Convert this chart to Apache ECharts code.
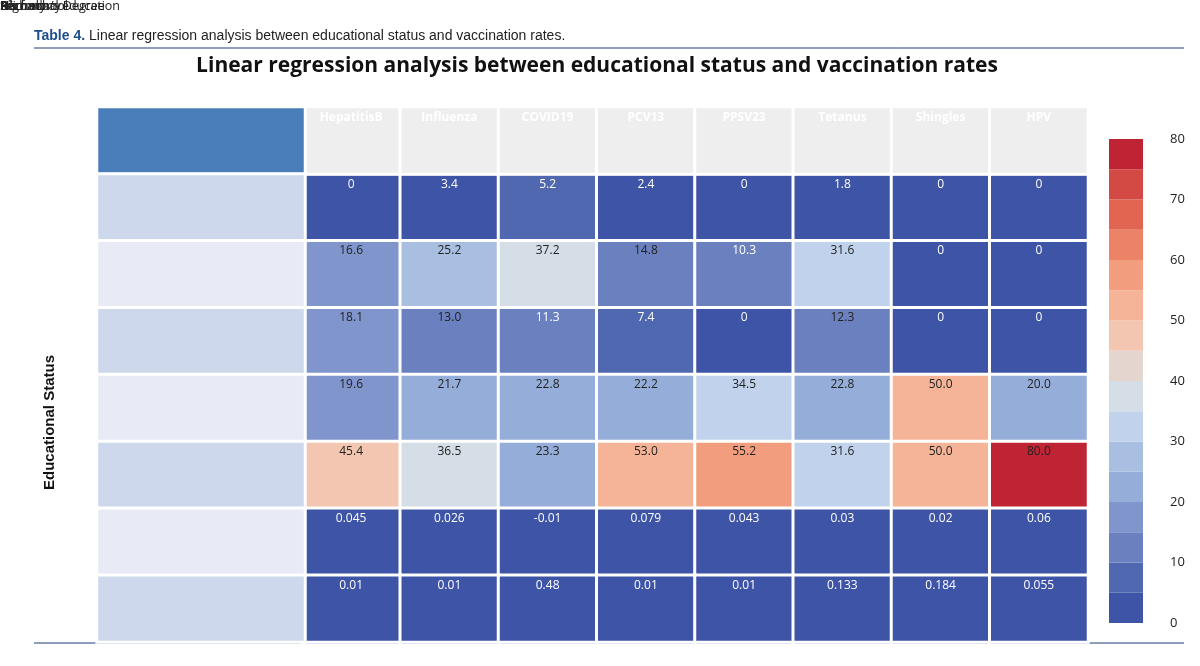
<!DOCTYPE html>
<html>
<head>
<meta charset="utf-8">
<script src="https://cdn.jsdelivr.net/npm/echarts@6/dist/echarts.min.js"></script>
<style>html,body{margin:0;padding:0;background:#fff}#chart{width:1200px;height:666px}</style>
</head>
<body>
<div id="chart"></div>
<script>
(function () {
  'use strict';

  const vaccines = ['HepatitisB', 'Influenza', 'COVID19', 'PCV13', 'PPSV23', 'Tetanus', 'Shingles', 'HPV'];
  const rowNames = ['No formal education', 'Primary', 'Secondary', 'High school', 'Bachelor\u2019s Degree', 'R\u00b2', 'P'];

  // 표에 적힌 값 그대로(문자열)
  const noFormal  = ['0', '3.4', '5.2', '2.4', '0', '1.8', '0', '0'];
  const primary   = ['16.6', '25.2', '37.2', '14.8', '10.3', '31.6', '0', '0'];
  const secondary = ['18.1', '13.0', '11.3', '7.4', '0', '12.3', '0', '0'];
  const highSch   = ['19.6', '21.7', '22.8', '22.2', '34.5', '22.8', '50.0', '20.0'];
  const bachelor  = ['45.4', '36.5', '23.3', '53.0', '55.2', '31.6', '50.0', '80.0'];
  const rSquared  = ['0.045', '0.026', '-0.01', '0.079', '0.043', '0.03', '0.02', '0.06'];
  const pValues   = ['0.01', '0.01', '0.48', '0.01', '0.01', '0.133', '0.184', '0.055'];

  // 색상 막대: 0~80, 5 단위 16칸
  const scaleColors = ['#3e54a6', '#5068b0', '#6a80bf', '#7f95cc', '#94aed9', '#a9bfe2', '#c1d3ec', '#d5dee6',
                       '#e4d6ce', '#f3c6b2', '#f5b497', '#f29e7e', '#ec8266', '#e16550', '#d24a43', '#bf2435'];
  const scaleStep = 5;
  const scaleTicks = ['0', '10', '20', '30', '40', '50', '60', '70', '80'];

  const tableRows = [noFormal, primary, secondary, highSch, bachelor, rSquared, pValues];
  const rowCats = ['hdr'].concat(rowNames);

  const cellData = [];
  tableRows.forEach((row, r) => {
    const isStat = r >= 5;
    row.forEach((txt, c) => {
      const v = isStat ? 0 : parseFloat(txt);
      cellData.push({ value: [c, r + 1, v], txt: txt, label: { color: (isStat || v < 12) ? '#fff' : '#222' } });
    });
  });
  const headerData = vaccines.map((v, c) => ({ value: [c, 0, 0], txt: v }));
  const labelData = rowCats.map((name, r) => ({
    value: [0, r, 0], txt: r === 0 ? '' : name,
    itemStyle: { color: r === 0 ? '#4a7ebb' : (r % 2 ? '#cdd8ec' : '#e8ebf5') },
    label: { fontWeight: r >= 6 ? 'bold' : 'normal' }
  }));

  const pieces = scaleColors.map((col, i) => ({ gte: i * scaleStep, lt: (i + 1) * scaleStep + (i === 15 ? 0.01 : 0), color: col }));
  const barSeries = scaleColors.map((col) => ({
    type: 'bar', xAxisIndex: 2, yAxisIndex: 2, stack: 'scale', barWidth: 34,
    data: [scaleStep], itemStyle: { color: col }, silent: true
  }));

  const cellStyle = { borderColor: '#fff', borderWidth: 3 };
  const chart = echarts.init(document.getElementById('chart'));
  chart.setOption({
    animation: false,
    textStyle: { fontFamily: 'Open Sans, DejaVu Sans, sans-serif' },
    title: {
      text: 'Linear regression analysis between educational status and vaccination rates',
      left: 592, top: 51, textAlign: 'center',
      textStyle: { fontSize: 21, fontWeight: 'bold', color: '#111' }
    },
    graphic: [
      { type: 'text', left: 34, top: 29, style: { text: '{b|Table 4.} Linear regression analysis between educational status and vaccination rates.',
        rich: { b: { fontWeight: 'bold', fill: '#1f4e8c', fontSize: 14 } }, fontSize: 14, fill: '#222' } },
      { type: 'line', shape: { x1: 34, y1: 48, x2: 1184, y2: 48 }, style: { stroke: '#1f3c7a', lineWidth: 1 } },
      { type: 'line', shape: { x1: 34, y1: 643, x2: 1184, y2: 643 }, style: { stroke: '#1f3c7a', lineWidth: 1 } },
      { type: 'text', left: 42, top: 355, rotation: Math.PI / 2, style: { text: 'Educational Status', fontSize: 15, fontWeight: 'bold', fill: '#111', align: 'center', verticalAlign: 'middle' }, x: 52, y: 355 }
    ],
    grid: [
      { left: 302, top: 107, width: 786, height: 535 },
      { left: 97, top: 107, width: 208, height: 535 },
      { left: 1108, top: 139, width: 36, height: 484 }
    ],
    xAxis: [
      { type: 'category', gridIndex: 0, data: vaccines, show: false },
      { type: 'category', gridIndex: 1, data: ['label'], show: false },
      { type: 'category', gridIndex: 2, data: ['s'], show: false }
    ],
    yAxis: [
      { type: 'category', gridIndex: 0, data: rowCats, inverse: true, show: false },
      { type: 'category', gridIndex: 1, data: rowCats, inverse: true, show: false },
      { type: 'value', gridIndex: 2, min: 0, max: 80, interval: 10, position: 'right',
        axisLine: { show: false }, axisTick: { show: false }, splitLine: { show: false },
        axisLabel: { margin: 26, fontSize: 13, color: '#222', formatter: (v) => scaleTicks[v / 10] } }
    ],
    visualMap: { type: 'piecewise', show: false, seriesIndex: 0, dimension: 2, pieces: pieces },
    series: [
      { type: 'heatmap', xAxisIndex: 0, yAxisIndex: 0, data: cellData, itemStyle: cellStyle,
        label: { show: true, position: 'insideTop', distance: 6, fontSize: 12, formatter: (p) => p.data.txt } },
      { type: 'heatmap', xAxisIndex: 0, yAxisIndex: 0, data: headerData, itemStyle: Object.assign({ color: '#eeeeee' }, cellStyle),
        label: { show: true, position: 'insideTop', distance: 6, fontSize: 12, fontWeight: 'bold', color: '#fff', formatter: (p) => p.data.txt } },
      { type: 'heatmap', xAxisIndex: 1, yAxisIndex: 1, data: labelData, itemStyle: cellStyle,
        label: { show: true, position: 'insideTopLeft', distance: [10, 6], fontSize: 12.5, color: '#222', formatter: (p) => p.data.txt } }
    ].concat(barSeries)
  });
})();
</script>
</body>
</html>
